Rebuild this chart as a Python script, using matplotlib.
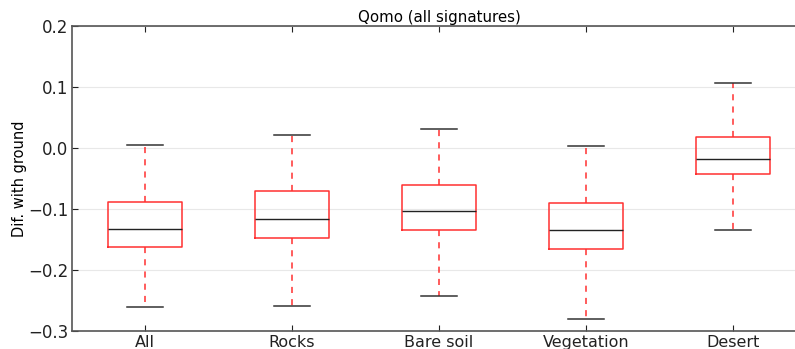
import matplotlib
matplotlib.use('Agg')
import matplotlib.pyplot as plt

categories = ['All', 'Rocks', 'Bare soil', 'Vegetation', 'Desert']
lower_whisker = [-0.260, -0.259, -0.243, -0.281, -0.135]
q1 = [-0.163, -0.147, -0.135, -0.166, -0.043]
median = [-0.133, -0.116, -0.103, -0.135, -0.018]
q3 = [-0.088, -0.071, -0.061, -0.090, 0.018]
upper_whisker = [0.005, 0.022, 0.031, 0.004, 0.106]

stats = []
for i, name in enumerate(categories):
    stats.append({'label': name, 'whislo': lower_whisker[i], 'q1': q1[i],
                  'med': median[i], 'q3': q3[i], 'whishi': upper_whisker[i],
                  'fliers': []})

fig = plt.figure(figsize=(7.95, 3.49), dpi=100)
ax = fig.add_axes([71.5 / 795, 18 / 349, 735 / 795, 305 / 349])

ax.bxp(stats, positions=range(1, 6), widths=0.5, showfliers=False,
       boxprops=dict(color='#ff3030', linewidth=1.1),
       whiskerprops=dict(color='#ff3030', linestyle=(0, (4, 4)), linewidth=1.1),
       capprops=dict(color='#333333', linewidth=1.1),
       medianprops=dict(color='#222222', linewidth=1.0))

ax.set_xlim(0.5, 5.5)
ax.set_ylim(-0.3, 0.2)
ax.set_yticks([-0.3, -0.2, -0.1, 0.0, 0.1, 0.2])
ax.set_yticklabels(['\u22120.3', '\u22120.2', '\u22120.1', '0.0', '0.1', '0.2'])
ax.yaxis.grid(True, color='#e8e8e8', linewidth=0.8)
ax.set_axisbelow(True)
ax.tick_params(axis='both', direction='in', labelsize=11.5, colors='#222222',
               top=True, bottom=True, left=True, right=False, length=4)
ax.tick_params(axis='y', pad=2.5, labelsize=12)
ax.tick_params(axis='x', pad=3)
for side in ['left', 'bottom', 'top']:
    ax.spines[side].set_color('#555555')
    ax.spines[side].set_linewidth(1.2)
ax.spines['right'].set_visible(False)

ax.set_ylabel('Dif. with ground', fontsize=10.5)
ax.yaxis.set_label_coords(-0.060, 0.5)
ax.set_title('Qomo (all signatures)', fontsize=10.8, pad=3)

fig.savefig('out.png', dpi=100)
